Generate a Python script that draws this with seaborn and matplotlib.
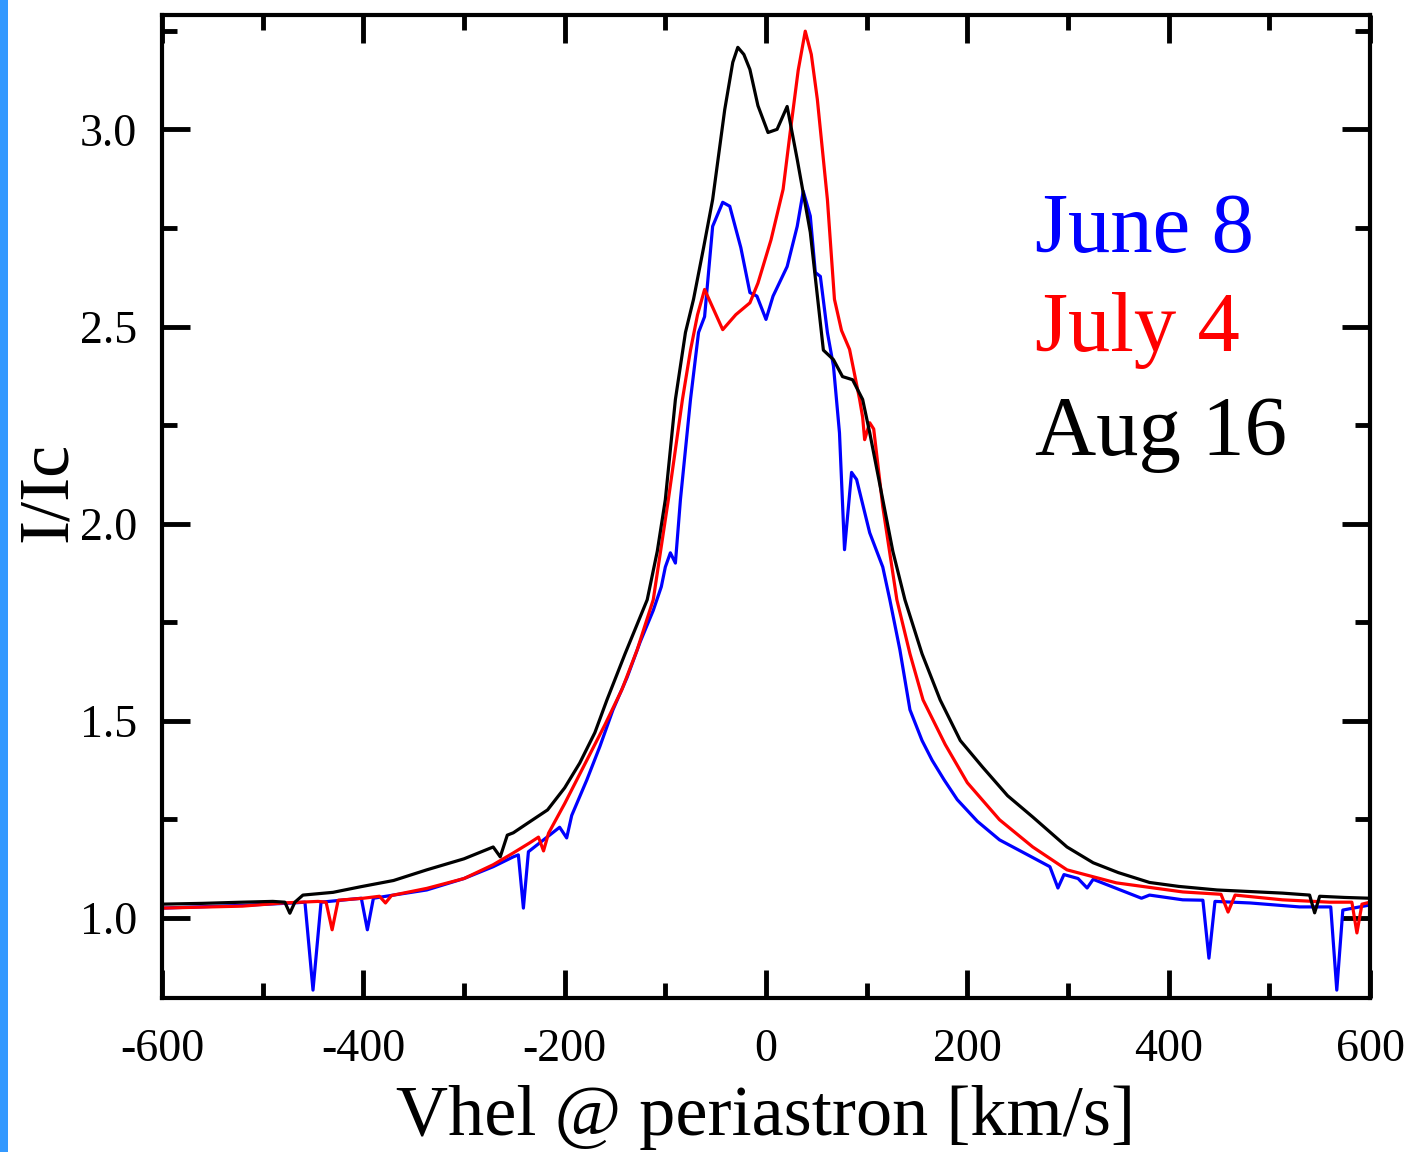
import numpy as np
import pandas as pd
import matplotlib
matplotlib.use("Agg")
import matplotlib.pyplot as plt
import seaborn as sns
from matplotlib.patches import Rectangle
from matplotlib.ticker import MultipleLocator, FormatStrFormatter

# ---------------- data ----------------
v_aug16 = [-600, -560, -520, -490, -478, -473, -468, -460, -430, -403, -370, -337, -300,
           -271, -264, -257, -251, -237, -217, -200, -185, -170, -158, -140, -118, -108, -100,
           -90, -80, -72, -62, -53, -41, -33, -28, -22, -16, -8, 2, 11, 21, 31, 44, 57, 67, 76,
           86, 96, 103, 116, 126, 138, 155, 173, 193, 215, 240, 265, 299, 325, 350, 381, 410,
           448, 513, 540, 545, 550, 575, 600]
i_aug16 = [1.035, 1.037, 1.040, 1.042, 1.040, 1.012, 1.040, 1.058, 1.065, 1.079, 1.095, 1.122, 1.150,
           1.180, 1.155, 1.210, 1.216, 1.240, 1.274, 1.330, 1.393, 1.470, 1.553, 1.670, 1.807, 1.930, 2.061,
           2.315, 2.485, 2.569, 2.700, 2.822, 3.050, 3.170, 3.208, 3.190, 3.152, 3.060, 2.992, 3.000, 3.058,
           2.924, 2.739, 2.440, 2.416, 2.373, 2.365, 2.315, 2.231, 2.061, 1.930, 1.807, 1.670, 1.553, 1.450,
           1.383, 1.310, 1.256, 1.180, 1.140, 1.115, 1.090, 1.080, 1.071, 1.063, 1.058, 1.013, 1.055, 1.052,
           1.050]

v_jul4 = [-600, -520, -480, -445, -437, -431, -425, -400, -384, -378, -372, -337, -300, -271,
          -251, -235, -226, -221, -216, -200, -190, -175, -160, -143, -128, -112, -97, -83, -75,
          -68, -61, -55, -43, -30, -16, -8, 5, 17, 24, 32, 39, 45, 51, 61, 68, 75, 83, 93, 96, 98,
          103, 107, 116, 130, 143, 156, 178, 200, 232, 265, 299, 348, 414, 452, 459, 466, 513, 560,
          582, 587, 592, 600]
i_jul4 = [1.025, 1.030, 1.038, 1.042, 1.040, 0.970, 1.045, 1.050, 1.055, 1.038, 1.057, 1.075, 1.100, 1.135,
          1.165, 1.190, 1.205, 1.170, 1.215, 1.290, 1.340, 1.415, 1.490, 1.580, 1.680, 1.807, 2.061, 2.315,
          2.440, 2.530, 2.594, 2.560, 2.492, 2.530, 2.560, 2.610, 2.720, 2.848, 2.992, 3.150, 3.249, 3.190,
          3.076, 2.822, 2.569, 2.490, 2.442, 2.315, 2.270, 2.213, 2.256, 2.240, 2.043, 1.807, 1.670, 1.553,
          1.440, 1.343, 1.249, 1.180, 1.122, 1.089, 1.066, 1.060, 1.015, 1.058, 1.046, 1.040, 1.040, 0.962,
          1.035, 1.040]

v_jun8 = [-600, -520, -470, -458, -450, -442, -410, -402, -396, -390, -370, -337, -300, -271,
          -251, -246, -241, -236, -230, -205, -198, -193, -178, -165, -152, -138, -125, -112, -104,
          -100, -95, -90, -85, -75, -67, -61, -53, -43, -36, -25, -16, -9, 0, 7, 21, 31, 37, 44, 49,
          54, 61, 67, 73, 78, 85, 90, 103, 116, 123, 133, 143, 155, 165, 177, 190, 210, 232, 260,
          282, 290, 296, 310, 319, 325, 373, 381, 414, 434, 440, 446, 481, 530, 561, 567, 573, 600]
i_jun8 = [1.025, 1.032, 1.038, 1.040, 0.817, 1.040, 1.048, 1.050, 0.970, 1.050, 1.058, 1.071, 1.100, 1.130,
          1.155, 1.160, 1.025, 1.168, 1.180, 1.230, 1.203, 1.260, 1.350, 1.435, 1.528, 1.610, 1.700, 1.780,
          1.840, 1.890, 1.926, 1.900, 2.061, 2.315, 2.485, 2.525, 2.754, 2.815, 2.805, 2.700, 2.586, 2.577,
          2.518, 2.577, 2.652, 2.754, 2.843, 2.780, 2.637, 2.627, 2.485, 2.400, 2.230, 1.934, 2.130, 2.112,
          1.977, 1.890, 1.807, 1.680, 1.528, 1.450, 1.400, 1.350, 1.300, 1.245, 1.198, 1.160, 1.130, 1.076,
          1.110, 1.100, 1.076, 1.098, 1.050, 1.058, 1.046, 1.045, 0.898, 1.042, 1.038, 1.028, 1.028, 0.817,
          1.020, 1.033]

labels = ["June 8", "July 4", "Aug 16"]
colors = ["#0000FF", "#FF0000", "#000000"]

# ---------------- figure ----------------
sns.set_theme(style="white")
plt.rcParams["font.family"] = ["Liberation Serif", "DejaVu Serif"]
plt.rcParams["axes.unicode_minus"] = False
plt.rcParams["text.color"] = "black"
plt.rcParams["axes.labelcolor"] = "black"
plt.rcParams["xtick.color"] = "black"
plt.rcParams["ytick.color"] = "black"

fig = plt.figure(figsize=(14.10, 11.52), dpi=100)
fig.patch.set_facecolor("white")
fig.patches.append(Rectangle((0, 0), 8 / 1410, 1, transform=fig.transFigure,
                             facecolor="#3399FF", edgecolor="none", zorder=0))
ax = fig.add_axes([162 / 1410, 1 - 998 / 1152, (1370 - 162) / 1410, (998 - 15) / 1152])

series = [(v_jun8, i_jun8), (v_jul4, i_jul4), (v_aug16, i_aug16)]
for (v, i), lab, col in zip(series, labels, colors):
    df = pd.DataFrame({"v": v, "I": i})
    sns.lineplot(data=df, x="v", y="I", ax=ax, color=col, lw=2.3, sort=False,
                 estimator=None, legend=False)

ax.set_xlim(-600, 600)
ax.set_ylim(0.797, 3.29)
ax.xaxis.set_major_locator(MultipleLocator(200))
ax.xaxis.set_minor_locator(MultipleLocator(100))
ax.yaxis.set_major_locator(MultipleLocator(0.5))
ax.yaxis.set_minor_locator(MultipleLocator(0.25))
ax.yaxis.set_major_formatter(FormatStrFormatter("%.1f"))

for s in ax.spines.values():
    s.set_visible(True)
    s.set_color("black")
    s.set_linewidth(3)
ax.tick_params(which="both", direction="in", top=True, right=True, bottom=True, left=True,
               colors="black", width=3.5)
ax.tick_params(which="major", length=20, labelsize=33)
ax.tick_params(axis="x", which="major", pad=22)
ax.tick_params(axis="y", which="major", pad=18)
ax.tick_params(which="minor", length=11)

ax.set_xlabel("Vhel @ periastron [km/s]", fontsize=52, labelpad=10, color="black")
ax.set_ylabel("I/Ic", fontsize=52, color="black")
ax.yaxis.set_label_coords(-0.067, 0.515)

# legend-like colored labels
legend_y = [2.69, 2.437, 2.175]
for lab, col, yy in zip(labels, colors, legend_y):
    ax.text(267, yy, lab, color=col, fontsize=61, va="baseline", ha="left")

fig.savefig("out.png", dpi=100, facecolor="white")
